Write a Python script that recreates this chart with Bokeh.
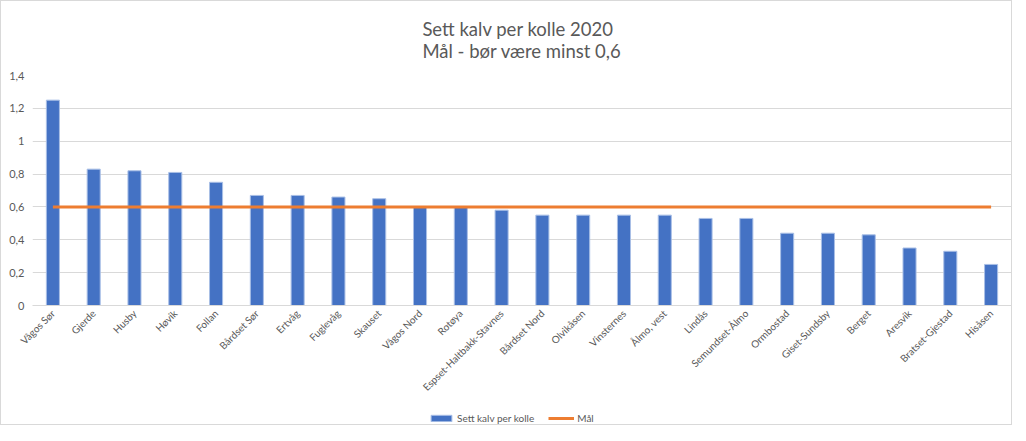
from bokeh.plotting import figure
from bokeh.layouts import column
from bokeh.models import (ColumnDataSource, Legend, LegendItem, FixedTicker,
                          CustomJSTickFormatter, FactorRange, Range1d)
from bokeh.embed import file_html
from bokeh.resources import INLINE
from math import pi

categories = ["Vågos Sør", "Gjerde", "Husby", "Høvik", "Follan", "Bårdset Sør", "Ertvåg",
              "Fuglevåg", "Skauset", "Vågos Nord", "Rotøya", "Espset-Haltbakk-Stavnes",
              "Bårdset Nord", "Olvikåsen", "Vinsternes", "Ålmo, vest", "Lindås",
              "Semundset-Ålmo", "Ormbostad", "Giset-Sundsby", "Berget", "Aresvik",
              "Bratset-Gjestad", "Hisåsen"]
sett_kalv = [1.25, 0.83, 0.82, 0.81, 0.75, 0.67, 0.67, 0.66, 0.65, 0.6, 0.6, 0.58,
             0.55, 0.55, 0.55, 0.55, 0.53, 0.53, 0.44, 0.44, 0.43, 0.35, 0.33, 0.25]
maal = [0.6] * len(categories)
y_ticks = [0, 0.2, 0.4, 0.6, 0.8, 1.0, 1.2, 1.4]
legend_labels = ["Sett kalv per kolle", "Mål"]

FONT = "Lato"
GRAY = "#595959"
BLUE = "#4472C4"
ORANGE = "#ED7D31"

src = ColumnDataSource(dict(cat=categories, val=sett_kalv, maal=maal))

p = figure(x_range=categories, y_range=(0, 1.4), width=1010, height=404,
           output_backend="svg", toolbar_location=None,
           title="Sett kalv per kolle 2020\nMål - bør være minst 0,6",
           min_border_left=31, min_border_right=0, min_border_top=71, min_border_bottom=100)

p.title.align = "center"
p.title.offset = -23
p.title.text_font = FONT
p.title.text_font_size = "18.5px"
p.title.text_font_style = "normal"
p.title.text_color = GRAY
p.title.text_line_height = 1.0
p.title.standoff = 28

p.vbar(x="cat", top="val", width=0.32, source=src, fill_color=BLUE,
       line_color="#a9bfe6", line_width=1)
p.line(x="cat", y="maal", source=src, line_color=ORANGE, line_width=3)

p.outline_line_color = None
p.xgrid.grid_line_color = None
p.ygrid.grid_line_color = "#d9d9d9"
p.ygrid.grid_line_width = 1

p.yaxis.ticker = FixedTicker(ticks=y_ticks)
p.yaxis.formatter = CustomJSTickFormatter(
    code="var s = tick.toFixed(1).replace('.', ','); return s.endsWith(',0') ? s.slice(0, -2) : s;")
p.yaxis.axis_line_color = None
p.yaxis.major_tick_line_color = None
p.yaxis.major_tick_out = 0
p.yaxis.major_tick_in = 0
p.yaxis.minor_tick_line_color = None
p.yaxis.major_label_text_font = FONT
p.yaxis.major_label_text_font_size = "11px"
p.yaxis.major_label_text_color = GRAY
p.yaxis.major_label_standoff = 8

p.xaxis.axis_line_color = "#d9d9d9"
p.xaxis.major_tick_line_color = None
p.xaxis.major_tick_out = 0
p.xaxis.major_tick_in = 0
p.xaxis.minor_tick_line_color = None
p.xaxis.major_label_orientation = pi / 4
p.xaxis.major_label_text_font = FONT
p.xaxis.major_label_text_font_size = "10px"
p.xaxis.major_label_text_color = GRAY
p.xaxis.major_label_standoff = 6

# legend strip below the chart (its renderers use the same data, kept far out of view)
leg = figure(width=1010, height=19, output_backend="svg", toolbar_location=None,
             x_range=FactorRange(*categories), y_range=Range1d(1000, 1001),
             x_axis_type=None, y_axis_type=None,
             min_border_left=0, min_border_right=0, min_border_top=0, min_border_bottom=0)
leg.outline_line_color = None
leg.grid.grid_line_color = None
r_bar = leg.vbar(x="cat", top="val", width=0.32, source=src, fill_color=BLUE,
                 line_color="#a9bfe6")
r_line = leg.line(x="cat", y="maal", source=src, line_color=ORANGE, line_width=3)

legend = Legend(items=[LegendItem(label=legend_labels[0], renderers=[r_bar]),
                       LegendItem(label=legend_labels[1], renderers=[r_line])],
                orientation="horizontal", location=(396, 0),
                label_text_font=FONT, label_text_font_size="10px", label_text_color=GRAY,
                border_line_color=None, background_fill_alpha=0,
                glyph_width=26, glyph_height=8, spacing=14, padding=0, margin=0,
                label_standoff=3, label_height=12)
leg.add_layout(legend, "center")

layout = column(p, leg, spacing=0)
layout.styles = {"border": "1px solid #d9d9d9"}

open("out.html", "w").write(file_html(layout, INLINE))
